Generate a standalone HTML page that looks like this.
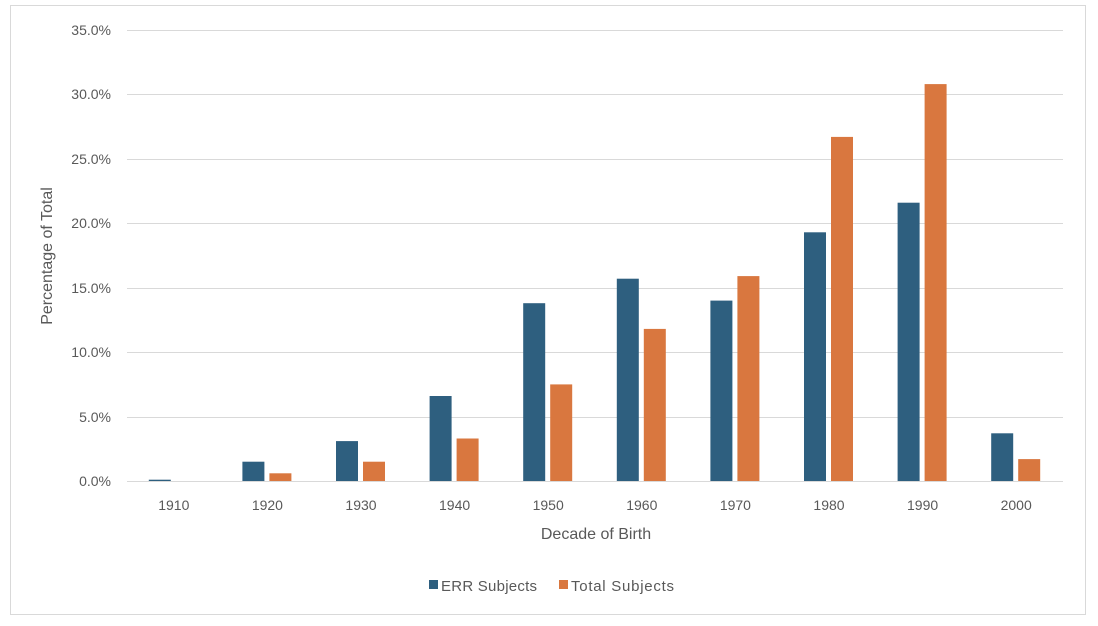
<!DOCTYPE html>
<html><head><style>body{margin:0;background:#fff}svg{display:block}text{font-family:"Liberation Sans",sans-serif;fill:#595959}</style></head><body>
<svg width="1098" height="626" xmlns="http://www.w3.org/2000/svg">
<rect x="10.5" y="5.5" width="1075" height="609" fill="#fff" stroke="#d9d9d9"/>
<g stroke="#d9d9d9" stroke-width="1">
<line x1="127" x2="1063" y1="30.5" y2="30.5"/><line x1="127" x2="1063" y1="94.5" y2="94.5"/><line x1="127" x2="1063" y1="159.5" y2="159.5"/><line x1="127" x2="1063" y1="223.5" y2="223.5"/><line x1="127" x2="1063" y1="288.5" y2="288.5"/><line x1="127" x2="1063" y1="352.5" y2="352.5"/><line x1="127" x2="1063" y1="417.5" y2="417.5"/><line x1="127" x2="1063" y1="481.5" y2="481.5"/>
</g>
<g font-size="14" text-anchor="end">
<text x="111" y="35">35.0%</text><text x="111" y="99">30.0%</text><text x="111" y="164">25.0%</text><text x="111" y="228">20.0%</text><text x="111" y="293">15.0%</text><text x="111" y="357">10.0%</text><text x="111" y="422">5.0%</text><text x="111" y="486">0.0%</text>
</g>
<g fill="#2e5f7f">
<rect x="148.8" y="479.7" width="22" height="1.3"/>
<rect x="242.4" y="461.7" width="22" height="19.3"/>
<rect x="336" y="441.1" width="22" height="39.9"/>
<rect x="429.6" y="396" width="22" height="85"/>
<rect x="523.2" y="303.2" width="22" height="177.8"/>
<rect x="616.8" y="278.7" width="22" height="202.3"/>
<rect x="710.4" y="300.6" width="22" height="180.4"/>
<rect x="804" y="232.3" width="22" height="248.7"/>
<rect x="897.6" y="202.7" width="22" height="278.3"/>
<rect x="991.2" y="433.3" width="22" height="47.7"/>
</g>
<g fill="#d9773f">
<rect x="269.4" y="473.3" width="22" height="7.7"/>
<rect x="363" y="461.7" width="22" height="19.3"/>
<rect x="456.6" y="438.5" width="22" height="42.5"/>
<rect x="550.2" y="384.4" width="22" height="96.6"/>
<rect x="643.8" y="328.9" width="22" height="152.1"/>
<rect x="737.4" y="276.1" width="22" height="204.9"/>
<rect x="831" y="136.9" width="22" height="344.1"/>
<rect x="924.6" y="84.1" width="22" height="396.9"/>
<rect x="1018.2" y="459.1" width="22" height="21.9"/>
</g>
<g font-size="14" text-anchor="middle">
<text x="173.8" y="510">1910</text><text x="267.4" y="510">1920</text><text x="361" y="510">1930</text><text x="454.6" y="510">1940</text><text x="548.2" y="510">1950</text><text x="641.8" y="510">1960</text><text x="735.4" y="510">1970</text><text x="829" y="510">1980</text><text x="922.6" y="510">1990</text><text x="1016.2" y="510">2000</text>
</g>
<text x="596" y="539" font-size="16" text-anchor="middle">Decade of Birth</text>
<text transform="translate(52,256) rotate(-90)" font-size="16" text-anchor="middle">Percentage of Total</text>
<rect x="429" y="580" width="9" height="9" fill="#2e5f7f"/>
<text x="441" y="591" font-size="15" textLength="96">ERR Subjects</text>
<rect x="559" y="580" width="9" height="9" fill="#d9773f"/>
<text x="571" y="591" font-size="15" textLength="103">Total Subjects</text>
</svg>
</body></html>
